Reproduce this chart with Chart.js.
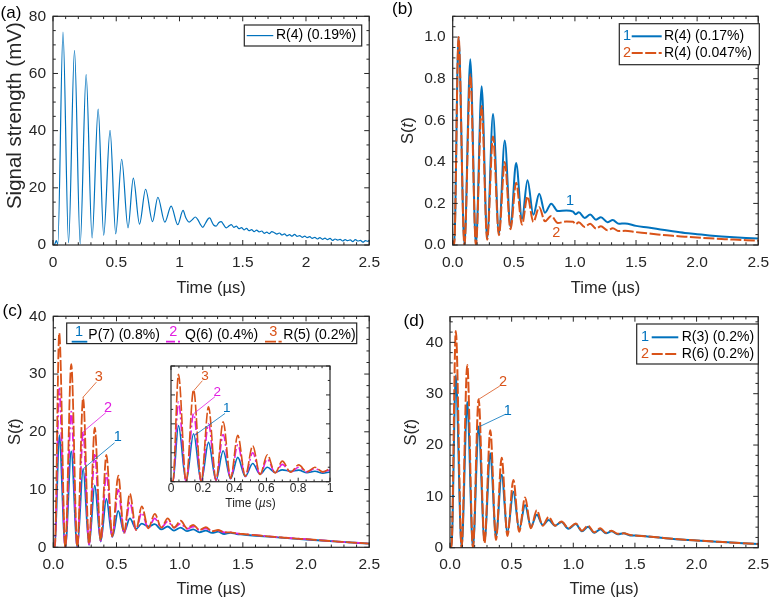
<!DOCTYPE html>
<html>
<head>
<meta charset="utf-8">
<script src="https://cdn.jsdelivr.net/npm/chart.js@4.4.1/dist/chart.umd.min.js"></script>
<style>
  body { margin: 0; background: #fff; }
  #page { position: relative; width: 777px; height: 600px; overflow: hidden; background: #fff; }
  canvas { position: absolute; }
</style>
</head>
<body>
<div id="page">
  <canvas id="pa" width="388" height="300" style="left:0;top:0"></canvas>
  <canvas id="pb" width="389" height="300" style="left:388px;top:0"></canvas>
  <canvas id="pc" width="388" height="300" style="left:0;top:300px"></canvas>
  <canvas id="pd" width="389" height="300" style="left:388px;top:300px"></canvas>
  <canvas id="pi" width="200" height="165" style="left:140px;top:355px"></canvas>
</div>
<script>
// ---- data (time in us) ----

// (a) raw signal, mV
const tA = [0, 0.013, 0.026, 0.038, 0.079, 0.123, 0.170, 0.215, 0.262, 0.309, 0.357, 0.401, 0.451, 0.496,
  0.543, 0.593, 0.635, 0.684, 0.732, 0.787, 0.829, 0.884, 0.934, 0.986, 1.028, 1.05, 1.076, 1.10, 1.125,
  1.145, 1.165, 1.185, 1.205, 1.225, 1.24, 1.255,
  1.27, 1.29, 1.31, 1.33, 1.35, 1.37, 1.39, 1.41, 1.43, 1.45, 1.47, 1.49, 1.51, 1.53, 1.55, 1.57, 1.59,
  1.61, 1.63, 1.65, 1.67, 1.69, 1.71, 1.73, 1.75, 1.77, 1.79, 1.81, 1.83, 1.85, 1.87, 1.89, 1.91, 1.93,
  1.95, 1.97, 1.99, 2.01, 2.03, 2.05, 2.07, 2.09, 2.11, 2.13, 2.15, 2.17, 2.19, 2.21, 2.23, 2.25, 2.27,
  2.29, 2.31, 2.33, 2.35, 2.37, 2.39, 2.41, 2.43, 2.45, 2.47, 2.49, 2.5];
const sA = [0, 0.2, 1.5, 0.3, 74.5, 0.8, 68.1, 0.4, 59.6, 2.5, 47.5, 3.4, 40.1, 3.9,
  30.0, 6.0, 23.4, 7.3, 19.5, 8.2, 16.7, 8.0, 13.6, 7.1, 12.1, 9.5, 8.0, 8.8, 9.8,
  8.9, 7.2, 6.2, 7.6, 9.1, 9.5, 8.2,
  7.0, 6.6, 7.8, 8.2, 7.0, 6.0, 6.6, 7.1, 6.2, 6.6, 5.7, 6.1, 5.3, 5.8, 5.0, 5.4, 4.7,
  5.2, 4.6, 4.9, 4.1, 4.5, 4.0, 4.7, 4.3, 3.8, 4.2, 3.5, 3.9, 3.2, 3.6, 3.1, 3.7, 3.0,
  3.3, 2.7, 3.1, 2.6, 2.9, 2.3, 2.7, 2.1, 2.6, 2.0, 2.4, 1.9, 2.3, 1.6, 2.1, 1.7, 2.0,
  1.4, 1.9, 1.5, 1.8, 1.2, 1.9, 1.4, 1.6, 1.0, 1.5, 1.3, 1.7];

// (b) normalised S(t)
const tB = [0, 0.012, 0.048, 0.096, 0.144, 0.19, 0.237, 0.282, 0.330, 0.378, 0.426, 0.473, 0.519, 0.567,
  0.612, 0.66, 0.708, 0.755, 0.806, 0.86, 0.93, 0.985, 1.005, 1.032, 1.08, 1.125, 1.173, 1.213, 1.266,
  1.31, 1.36, 1.41, 1.5, 1.6, 1.7, 1.8, 1.9, 2.0, 2.1, 2.2, 2.3, 2.4, 2.5];
const sB1 = [0, 0, 1.0, 0, 0.894, 0, 0.764, 0.032, 0.630, 0.055, 0.503, 0.087, 0.395, 0.125,
  0.312, 0.145, 0.247, 0.155, 0.199, 0.163, 0.166, 0.160, 0.148, 0.157, 0.130, 0.147, 0.122, 0.134, 0.110,
  0.120, 0.102, 0.104, 0.092, 0.084, 0.075, 0.066, 0.058, 0.052, 0.046, 0.041, 0.037, 0.034, 0.031];
const sB2 = [0.02, 0, 1.0, 0, 0.820, 0, 0.668, 0.025, 0.522, 0.047, 0.399, 0.076, 0.300, 0.098,
  0.233, 0.111, 0.182, 0.114, 0.140, 0.106, 0.113, 0.112, 0.100, 0.110, 0.087, 0.102, 0.079, 0.090, 0.071,
  0.080, 0.067, 0.068, 0.062, 0.056, 0.049, 0.044, 0.040, 0.036, 0.032, 0.029, 0.026, 0.023, 0.021];

// (c) P(7), Q(6), R(5)
const tC = [0, 0.012, 0.047, 0.095, 0.142, 0.19, 0.236, 0.283, 0.328, 0.375, 0.42, 0.467, 0.514, 0.56,
  0.606, 0.655, 0.70, 0.752, 0.803, 0.855, 0.905, 0.955, 1.008, 1.058, 1.107, 1.157, 1.207, 1.256,
  1.304, 1.352, 1.40, 1.45, 1.5, 1.6, 1.75, 1.9, 2.0, 2.25, 2.5];
const sC1 = [0.1, 0, 19.4, 0, 16.6, 0, 13.6, 0.4, 10.7, 1.0, 8.4, 1.8, 6.3, 2.6,
  5.0, 3.2, 4.1, 3.6, 4.0, 3.1, 3.6, 2.9, 3.4, 2.8, 3.1, 2.6, 2.9, 2.5,
  2.7, 2.3, 2.5, 2.3, 2.2, 2.0, 1.75, 1.5, 1.35, 1.0, 0.62];
const sC2 = [0.2, 0.1, 27.5, 0, 23.5, 0, 20.0, 0.5, 16.3, 1.1, 12.8, 1.8, 10.0, 2.4,
  7.8, 3.0, 6.0, 3.3, 5.0, 3.4, 4.5, 3.4, 4.1, 3.2, 3.6, 3.0, 3.3, 2.8,
  2.9, 2.6, 2.6, 2.4, 2.3, 2.1, 1.8, 1.55, 1.4, 1.0, 0.65];
const sC3 = [0.3, 0.1, 37.1, 0, 31.7, 0.1, 25.9, 0.6, 20.7, 1.2, 16.0, 1.9, 12.4, 2.5,
  9.3, 3.0, 7.1, 3.3, 5.8, 3.4, 5.0, 3.4, 4.6, 3.3, 3.9, 3.0, 3.5, 2.8,
  3.0, 2.6, 2.6, 2.4, 2.3, 2.1, 1.8, 1.55, 1.4, 1.0, 0.65];

// (d) R(3), R(6)
const tD = [0, 0.012, 0.047, 0.094, 0.14, 0.186, 0.232, 0.28, 0.327, 0.373, 0.419, 0.466, 0.514, 0.561,
  0.609, 0.656, 0.704, 0.752, 0.80, 0.852, 0.905, 0.96, 1.02, 1.07, 1.12, 1.17, 1.22, 1.265,
  1.31, 1.36, 1.41, 1.46, 1.5, 1.6, 1.75, 1.9, 2.0, 2.25, 2.5];
const sD1 = [0.2, 0.1, 33.6, 0, 28.4, 0, 23.6, 1.3, 18.4, 2.2, 14.2, 3.0, 10.9, 3.6,
  8.3, 4.1, 6.4, 4.4, 5.4, 4.3, 5.0, 3.7, 4.6, 3.2, 4.1, 2.9, 3.6, 2.8,
  3.2, 2.6, 2.8, 2.4, 2.4, 2.2, 1.85, 1.55, 1.4, 1.05, 0.7];
const sD2 = [0.3, 0.1, 42.2, 0, 35.6, 0, 28.9, 0.9, 22.9, 1.5, 17.5, 2.3, 13.2, 3.1,
  9.8, 3.8, 7.3, 4.3, 6.0, 4.3, 5.1, 3.8, 4.7, 3.3, 4.3, 3.0, 3.8, 2.9,
  3.3, 2.7, 2.8, 2.5, 2.4, 2.2, 1.85, 1.55, 1.4, 1.05, 0.7];

// names and tick labels
const namesA = ['R(4) (0.19%)'];
const namesB = ['R(4) (0.17%)', 'R(4) (0.047%)'];
const namesC = ['P(7) (0.8%)', 'Q(6) (0.4%)', 'R(5) (0.2%)'];
const namesD = ['R(3) (0.2%)', 'R(6) (0.2%)'];
const xTicks = [0, 0.5, 1, 1.5, 2, 2.5];
const yTicksA = [0, 20, 40, 60, 80];
const yTicksB = [0, 0.2, 0.4, 0.6, 0.8, 1.0];
const yTicksCD = [0, 10, 20, 30, 40];
const xTicksIn = [0, 0.2, 0.4, 0.6, 0.8, 1];

// ---- drawing ----
const FONT = '"Liberation Sans", Arial, sans-serif';
const INK = '#262626';
const BLUE = '#0072BD', ORANGE = '#D95319', MAGENTA = '#E01EE0';
const DASH = [11, 2.5], DASHDOT = [9, 3, 2, 3];

function fnt(size, italic) { return (italic ? 'italic ' : '') + size + 'px ' + FONT; }

function seg(ctx, x0, y0, x1, y1) {
  ctx.beginPath(); ctx.moveTo(x0, y0); ctx.lineTo(x1, y1); ctx.stroke();
}

// text made of upright / italic pieces, centred on (x, y)
function rich(ctx, parts, x, y, size, rot) {
  ctx.save();
  ctx.translate(x, y);
  if (rot) ctx.rotate(rot);
  let w = 0;
  parts.forEach(p => { ctx.font = fnt(size, p[1]); w += ctx.measureText(p[0]).width; });
  let cx = -w / 2;
  ctx.textAlign = 'left'; ctx.textBaseline = 'middle'; ctx.fillStyle = INK;
  parts.forEach(p => {
    ctx.font = fnt(size, p[1]);
    ctx.fillText(p[0], cx, 0);
    cx += ctx.measureText(p[0]).width;
  });
  ctx.restore();
}

const frame = {
  id: 'frame',
  beforeDatasetsDraw(chart, args, o) {
    if (!o.white) return;
    const a = chart.chartArea, ctx = chart.ctx;
    ctx.save(); ctx.fillStyle = '#fff';
    ctx.fillRect(a.left, a.top, a.right - a.left, a.bottom - a.top);
    ctx.restore();
  },
  afterDraw(chart, args, o) {
    const ctx = chart.ctx, a = chart.chartArea, sx = chart.scales.x, sy = chart.scales.y;
    ctx.save();
    ctx.strokeStyle = INK; ctx.lineWidth = 1;

    // inward ticks on all four sides, MATLAB style
    const nx = Math.floor((sx.max - sx.min) / o.xMinor + 1e-6);
    for (let i = 0; i <= nx; i++) {
      const v = sx.min + i * o.xMinor, p = sx.getPixelForValue(v);
      const L = Math.abs(v / o.xMajor - Math.round(v / o.xMajor)) < 1e-6 ? o.len : o.len * 0.55;
      seg(ctx, p, a.bottom, p, a.bottom - L);
      seg(ctx, p, a.top, p, a.top + L);
    }
    const ny = Math.floor((sy.max - sy.min) / o.yMinor + 1e-6);
    for (let i = 0; i <= ny; i++) {
      const v = sy.min + i * o.yMinor, p = sy.getPixelForValue(v);
      const L = Math.abs(v / o.yMajor - Math.round(v / o.yMajor)) < 1e-6 ? o.len : o.len * 0.55;
      seg(ctx, a.left, p, a.left + L, p);
      seg(ctx, a.right, p, a.right - L, p);
    }
    ctx.lineWidth = 1.2;
    ctx.strokeRect(a.left, a.top, a.right - a.left, a.bottom - a.top);

    // axis titles
    if (o.xTitle) rich(ctx, o.xTitle, (a.left + a.right) / 2, a.bottom + o.xTitleDy, o.titleSize, 0);
    if (o.yTitle) rich(ctx, o.yTitle, a.left + o.yTitleDx, (a.top + a.bottom) / 2 + (o.yTitleDy || 0),
      o.yTitleSize || o.titleSize, -Math.PI / 2);

    // leader-line labels, placed in data units
    (o.notes || []).forEach(n => {
      ctx.strokeStyle = n.color; ctx.lineWidth = 0.8;
      if (n.from) seg(ctx, sx.getPixelForValue(n.from[0]), sy.getPixelForValue(n.from[1]),
        sx.getPixelForValue(n.to[0]), sy.getPixelForValue(n.to[1]));
      ctx.fillStyle = n.color; ctx.font = fnt(n.size || 14.5);
      ctx.textAlign = 'center'; ctx.textBaseline = 'middle';
      ctx.fillText(n.text, sx.getPixelForValue(n.at[0]), sy.getPixelForValue(n.at[1]));
    });

    // legend box
    if (o.legend) {
      const lg = o.legend, ox = a.left, oy = a.top, b = lg.box;
      ctx.fillStyle = '#fff'; ctx.fillRect(ox + b[0], oy + b[1], b[2], b[3]);
      ctx.strokeStyle = INK; ctx.lineWidth = 1.2; ctx.strokeRect(ox + b[0], oy + b[1], b[2], b[3]);
      lg.items.forEach(it => {
        const ds = chart.data.datasets[it.ds];
        ctx.strokeStyle = ds.borderColor; ctx.lineWidth = ds.borderWidth;
        ctx.setLineDash(ds.borderDash || []);
        seg(ctx, ox + it.x0, oy + it.ly, ox + it.x1, oy + it.ly);
        ctx.setLineDash([]);
        ctx.textBaseline = 'middle';
        if (it.num) {
          ctx.fillStyle = ds.borderColor; ctx.font = fnt(14.5); ctx.textAlign = 'center';
          ctx.fillText(it.num, ox + it.nx, oy + it.ny);
        }
        ctx.fillStyle = '#000'; ctx.font = fnt(14); ctx.textAlign = 'left';
        ctx.fillText(it.text, ox + it.tx, oy + it.ty);
      });
    }

    // panel tag
    if (o.tag) {
      ctx.fillStyle = '#000'; ctx.font = fnt(17); ctx.textAlign = 'center'; ctx.textBaseline = 'middle';
      ctx.fillText(o.tag[0], o.tag[1], o.tag[2]);
    }
    ctx.restore();
  }
};

function line(t, v, color, width, dash, order) {
  return {
    data: t.map((x, i) => ({ x: x, y: v[i] })),
    showLine: true, borderColor: color, backgroundColor: color, borderWidth: width,
    borderDash: dash || [], pointRadius: 0, cubicInterpolationMode: 'monotone',
    borderJoinStyle: 'round', order: order
  };
}

function panel(id, o) {
  const cv = document.getElementById(id);
  const tickFont = { family: FONT, size: o.tickSize || 15.5 };
  return new Chart(cv, {
    type: 'scatter',
    data: { datasets: o.sets },
    options: {
      responsive: false, animation: false, events: [], devicePixelRatio: 1,
      layout: { padding: { top: o.area[1], right: cv.width - o.area[2], left: 0, bottom: 0 } },
      scales: {
        x: {
          type: 'linear', min: o.xr[0], max: o.xr[1],
          grid: { display: false, drawTicks: false }, border: { display: false },
          afterFit: s => { s.height = cv.height - o.area[3]; },
          afterBuildTicks: s => { s.ticks = o.xt.map(v => ({ value: v })); },
          ticks: { font: tickFont, color: INK, padding: o.xPad, maxRotation: 0, autoSkip: false, callback: o.xf }
        },
        y: {
          type: 'linear', min: o.yr[0], max: o.yr[1],
          grid: { display: false, drawTicks: false }, border: { display: false },
          afterFit: s => { s.width = o.area[0]; },
          afterBuildTicks: s => { s.ticks = o.yt.map(v => ({ value: v })); },
          ticks: { display: o.yf !== null, font: tickFont, color: INK, padding: 7, callback: o.yf || (v => String(v)) }
        }
      },
      plugins: { legend: { display: false }, tooltip: { enabled: false }, frame: o.frame }
    },
    plugins: [frame]
  });
}

const fix1 = v => v.toFixed(1);
const plain = v => String(v);
const TIME = [['Time (\u00b5s)', false]];
const ST = [['S(', false], ['t', true], [')', false]];

panel('pa', {
  area: [53, 13, 371, 245], xr: [0, 2.5], yr: [0, 80], xt: xTicks, yt: yTicksA, xf: plain, yf: plain, xPad: 8,
  sets: [line(tA, sA, BLUE, 1.2, null, 0)],
  frame: {
    xMinor: 0.1, xMajor: 0.5, yMinor: 5, yMajor: 20, len: 5, titleSize: 16.5,
    xTitle: TIME, xTitleDy: 43,
    yTitle: [['Signal strength (mV)', false]], yTitleDx: -38, yTitleDy: -15, yTitleSize: 20.5,
    tag: ['(a)', 11, 13.5],
    legend: { box: [191.3, 8.7, 117.4, 21], items: [
      { ds: 0, x0: 193.7, x1: 220.3, ly: 19.3, tx: 223, ty: 19.3, text: namesA[0] }] }
  }
});

panel('pb', {
  area: [64.7, 13.3, 378, 245], xr: [0, 2.5], yr: [0, 1.1], xt: xTicks, yt: yTicksB, xf: fix1, yf: fix1, xPad: 8,
  sets: [line(tB, sB1, BLUE, 2, null, 1), line(tB, sB2, ORANGE, 2, DASH, 0)],
  frame: {
    xMinor: 0.1, xMajor: 0.5, yMinor: 0.05, yMajor: 0.2, len: 5, titleSize: 16.5,
    xTitle: TIME, xTitleDy: 43, yTitle: ST, yTitleDx: -44.7,
    tag: ['(b)', 14.5, 9.2],
    notes: [
      { text: '1', color: BLUE, at: [0.96, 0.214] },
      { text: '2', color: ORANGE, at: [0.848, 0.057] }],
    legend: { box: [166.6, 7.4, 140, 41], items: [
      { ds: 0, num: '1', nx: 174.3, ny: 20, x0: 179, x1: 209, ly: 20, tx: 211.3, ty: 20, text: namesB[0] },
      { ds: 1, num: '2', nx: 174.3, ny: 36.7, x0: 179, x1: 209, ly: 36.7, tx: 211.3, ty: 36.7, text: namesB[1] }] }
  }
});

panel('pc', {
  area: [53.3, 16, 371, 247.3], xr: [0, 2.5], yr: [0, 40], xt: xTicks, yt: yTicksCD, xf: fix1, yf: plain, xPad: 8,
  sets: [line(tC, sC1, BLUE, 1.8, null, 2), line(tC, sC2, MAGENTA, 1.8, DASHDOT, 1), line(tC, sC3, ORANGE, 1.8, DASH, 0)],
  frame: {
    xMinor: 0.1, xMajor: 0.5, yMinor: 2, yMajor: 10, len: 5, titleSize: 16.5,
    xTitle: TIME, xTitleDy: 41.7, yTitle: ST, yTitleDx: -38.3,
    tag: ['(c)', 12.5, 11.7],
    notes: [
      { text: '3', color: ORANGE, at: [0.36, 29.5], from: [0.236, 26.0], to: [0.341, 28.6] },
      { text: '2', color: MAGENTA, at: [0.433, 24.1], from: [0.236, 20.0], to: [0.415, 23.3] },
      { text: '1', color: BLUE, at: [0.511, 19.1], from: [0.242, 13.7], to: [0.485, 18.1] }],
    legend: { box: [13.4, 6.7, 290, 20.6], items: [
      { ds: 0, num: '1', nx: 25.7, ny: 15.2, x0: 18.4, x1: 34, ly: 25.4, tx: 35, ty: 18.5, text: namesC[0] },
      { ds: 1, num: '2', nx: 120, ny: 15.2, x0: 112.7, x1: 129.4, ly: 25.4, tx: 131.7, ty: 18.5, text: namesC[1] },
      { ds: 2, num: '3', nx: 220, ny: 15.2, x0: 211.7, x1: 228.4, ly: 25.4, tx: 230, ty: 18.5, text: namesC[2] }] }
  }
});

panel('pd', {
  area: [62, 16.7, 378, 247.7], xr: [0, 2.5], yr: [0, 45], xt: xTicks, yt: yTicksCD, xf: fix1, yf: plain, xPad: 8,
  sets: [line(tD, sD1, BLUE, 2, null, 1), line(tD, sD2, ORANGE, 2, DASH, 0)],
  frame: {
    xMinor: 0.1, xMajor: 0.5, yMinor: 2, yMajor: 10, len: 5, titleSize: 16.5,
    xTitle: TIME, xTitleDy: 41.3, yTitle: ST, yTitleDx: -38.3,
    tag: ['(d)', 26, 21.7],
    notes: [
      { text: '2', color: ORANGE, at: [0.43, 32.2], from: [0.232, 28.9], to: [0.404, 31.5] },
      { text: '1', color: BLUE, at: [0.469, 26.6], from: [0.24, 23.6], to: [0.451, 26.0] }],
    legend: { box: [186.7, 7.3, 121.6, 40], items: [
      { ds: 0, num: '1', nx: 195, ny: 20.6, x0: 201.7, x1: 228.3, ly: 20.6, tx: 231.7, ty: 20.6, text: namesD[0] },
      { ds: 1, num: '2', nx: 195, ny: 37.3, x0: 201.7, x1: 228.3, ly: 37.3, tx: 231.7, ty: 37.3, text: namesD[1] }] }
  }
});

// inset of (c), first microsecond
panel('pi', {
  area: [31, 11, 190, 126.7], xr: [0, 1], yr: [0, 40], xt: xTicksIn, yt: yTicksCD, xf: plain, yf: null, xPad: 0, tickSize: 12,
  sets: [line(tC, sC1, BLUE, 1.6, null, 2), line(tC, sC2, MAGENTA, 1.6, DASHDOT, 1), line(tC, sC3, ORANGE, 1.6, DASH, 0)],
  frame: {
    white: true, xMinor: 0.05, xMajor: 0.2, yMinor: 5, yMajor: 10, len: 4, titleSize: 12,
    xTitle: [['Time (', false], ['\u00b5', true], ['s)', false]], xTitleDy: 21.6,
    notes: [
      { text: '3', color: ORANGE, size: 13.5, at: [0.214, 36.3], from: [0.142, 31.4], to: [0.197, 34.9] },
      { text: '2', color: MAGENTA, size: 13.5, at: [0.291, 30.8], from: [0.145, 23.6], to: [0.277, 29.4] },
      { text: '1', color: BLUE, size: 13.5, at: [0.350, 25.4], from: [0.148, 16.0], to: [0.340, 23.6] }]
  }
});
</script>
</body>
</html>
